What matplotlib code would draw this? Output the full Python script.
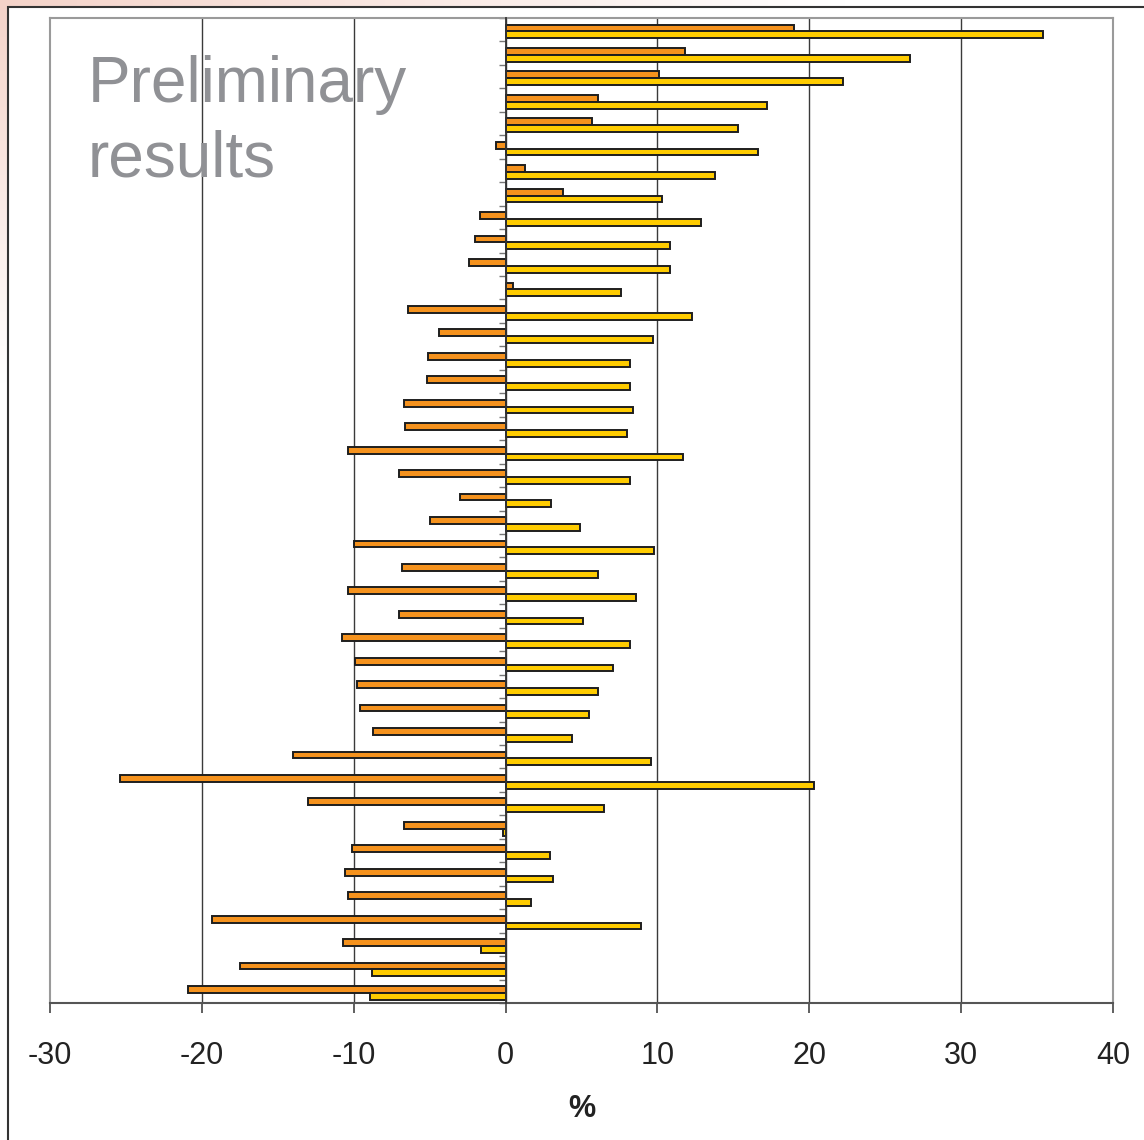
"""
Preliminary results: paired horizontal bars (%), two series per row.
"""

import numpy as np
import matplotlib

matplotlib.use("Agg")
import matplotlib.pyplot as plt
from matplotlib.patches import Rectangle

plt.rcParams["font.family"] = ["Liberation Sans", "DejaVu Sans"]

# values, top row first
orange_vals = [19.0, 11.8, 10.1, 6.1, 5.7, -0.6, 1.3, 3.8, -1.7, -2.0,
               -2.4, 0.5, -6.4, -4.4, -5.1, -5.2, -6.7, -6.6, -10.4, -7.0,
               -3.0, -5.0, -10.0, -6.8, -10.4, -7.0, -10.8, -9.9, -9.8, -9.6,
               -8.7, -14.0, -25.4, -13.0, -6.7, -10.1, -10.6, -10.4, -19.3, -10.7,
               -17.5, -20.9]
yellow_vals = [35.4, 26.6, 22.2, 17.2, 15.3, 16.6, 13.8, 10.3, 12.9, 10.8,
               10.8, 7.6, 12.3, 9.7, 8.2, 8.2, 8.4, 8.0, 11.7, 8.2,
               3.0, 4.9, 9.8, 6.1, 8.6, 5.1, 8.2, 7.1, 6.1, 5.5,
               4.4, 9.6, 20.3, 6.5, -0.15, 2.9, 3.1, 1.7, 8.9, -1.6,
               -8.8, -8.9]
x_ticks = [-30, -20, -10, 0, 10, 20, 30, 40]
x_label = "%"
note = "Preliminary\nresults"

ORANGE = "#F5921D"
YELLOW = "#FFCC00"
EDGE = "#1e1e1e"
W, H = 1144, 1140

fig = plt.figure(figsize=(W / 100, H / 100), dpi=100)

# slide background: pinkish wash in the top-left corner, white panel with dark frame
bg = fig.add_axes([0, 0, 1, 1], zorder=-5)
bg.set_xlim(0, W)
bg.set_ylim(H, 0)
bg.axis("off")
gx, gy = np.meshgrid(np.linspace(0, W, 120), np.linspace(0, H, 120))
wash = np.zeros((120, 120, 4))
wash[..., 0] = 0.96
wash[..., 1] = 0.83
wash[..., 2] = 0.79
wash[..., 3] = np.clip(1 - gx / 850 - gy / 380, 0, 1)
bg.imshow(wash, extent=[0, W, H, 0], aspect="auto", interpolation="bilinear")
bg.add_patch(Rectangle((7.5, 7), W, H, facecolor="white", edgecolor="#333333", lw=1.5))

ax = fig.add_axes([50 / W, 1 - 1003 / H, (1113 - 50) / W, (1003 - 18) / H])
ax.set_facecolor("none")

n = len(orange_vals)
rows = np.arange(n)
h = 0.29
ax.barh(rows - 0.075, orange_vals, height=h, color=ORANGE, edgecolor=EDGE, lw=1.4, zorder=3)
ax.barh(rows + 0.215, yellow_vals, height=h, color=YELLOW, edgecolor=EDGE, lw=1.4, zorder=3)

ax.set_xlim(x_ticks[0], x_ticks[-1])
ax.set_ylim(n - 0.5, -0.5)
ax.set_xticks(x_ticks)
ax.set_xticklabels([str(t) for t in x_ticks])
ax.set_yticks(np.arange(-0.5, n + 0.5, 1.0))
ax.set_yticklabels([])

ax.tick_params(axis="x", direction="out", length=7, width=1.2, color="#444444",
               labelsize=22, labelcolor="#222222", pad=20)
ax.tick_params(axis="y", direction="out", length=5, width=1.0, color="#777777")

ax.grid(axis="x", color="#3a3a3a", lw=1.0, zorder=1)
ax.xaxis.get_gridlines()[0].set_visible(False)
ax.xaxis.get_gridlines()[-1].set_visible(False)

ax.spines["left"].set_position(("data", 0))
ax.spines["left"].set_color("#333333")
ax.spines["left"].set_linewidth(1.3)
ax.spines["left"].set_zorder(4)
ax.spines["bottom"].set_color("#555555")
ax.spines["bottom"].set_linewidth(1.5)
for side in ["top", "right"]:
    ax.spines[side].set_color("#9a9a9a")
    ax.spines[side].set_linewidth(1.5)
ax.axvline(x_ticks[0], color="#9a9a9a", lw=1.5, clip_on=False, zorder=2)

ax.set_xlabel(x_label, fontsize=22, fontweight="bold", color="#222222", labelpad=17)

ax.text(0.0357, 0.962, note, transform=ax.transAxes, fontsize=46, color="#909195",
        va="top", ha="left", linespacing=1.3)

fig.savefig("out.png", dpi=100)
